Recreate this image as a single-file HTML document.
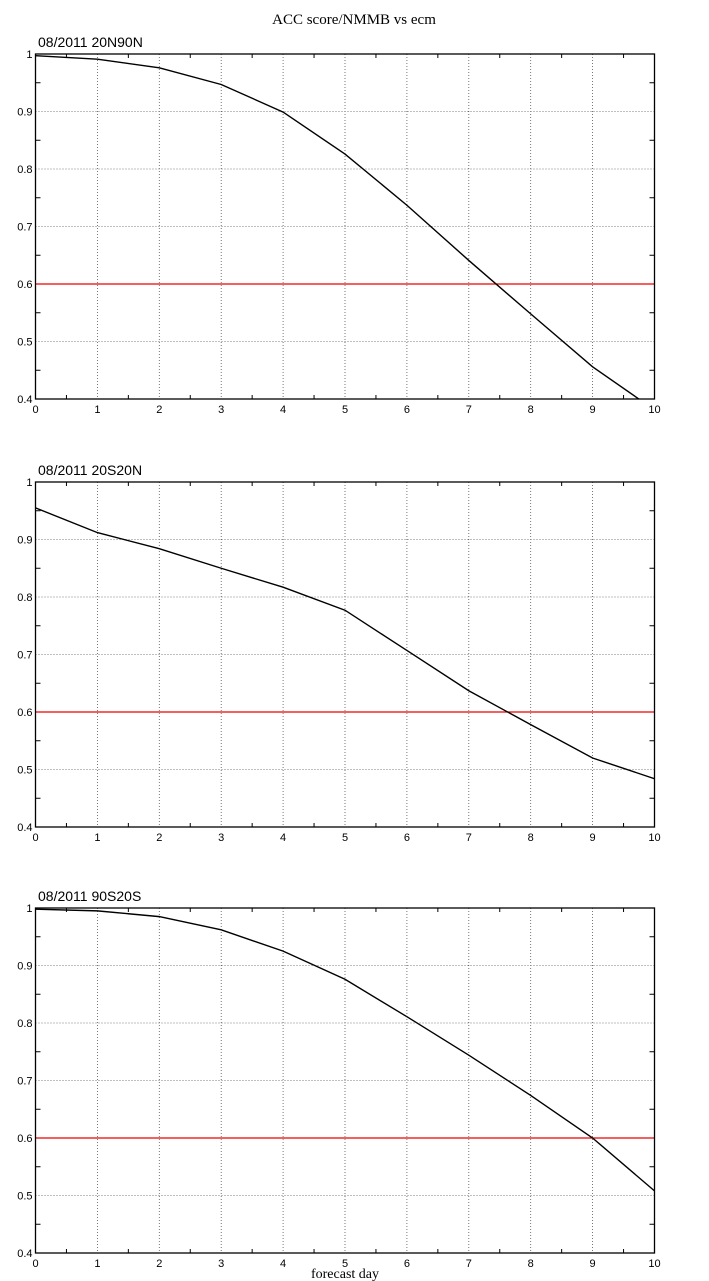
<!DOCTYPE html>
<html><head><meta charset="utf-8"><style>body{margin:0;background:#fff}svg{display:block}</style></head>
<body>
<svg id="c" width="709" height="1281" xmlns="http://www.w3.org/2000/svg">
<text x="354" y="24" text-anchor="middle" font-family="Liberation Serif, serif" font-size="15">ACC score/NMMB vs ecm</text>
<text x="345" y="1278" text-anchor="middle" font-family="Liberation Serif, serif" font-size="14">forecast day</text>
</svg>
<script>
const days=[0,1,2,3,4,5,6,7,8,9,10];
const titles=["08/2011 20N90N","08/2011 20S20N","08/2011 90S20S"];
const s1=[0.997,0.991,0.976,0.947,0.899,0.826,0.737,0.641,0.548,0.456,0.381];
const s2=[0.955,0.912,0.884,0.850,0.817,0.777,0.707,0.637,0.578,0.520,0.484];
const s3=[0.998,0.995,0.985,0.962,0.925,0.876,0.811,0.744,0.674,0.600,0.508];
const yTicks=[0.4,0.5,0.6,0.7,0.8,0.9,1];
const yTickLabels=["0.4","0.5","0.6","0.7","0.8","0.9","1"];
const refLine=0.6;
const svg=document.getElementById('c');
const NS="http://www.w3.org/2000/svg";
function mk(t,a,p){const e=document.createElementNS(NS,t);for(const k in a)e.setAttribute(k,a[k]);(p||svg).appendChild(e);return e;}
const series=[s1,s2,s3];
const tops=[54,482,908];
const L=35.5,R=654.5,H=345;
series.forEach((s,i)=>{
  const T=tops[i],B=T+H;
  const g=mk('g',{});
  
  
  const x=v=>L+(v-0)/(10-0)*(R-L);
  const y=v=>B-(v-0.4)/(1-0.4)*H;
  const cp=mk('clipPath',{id:'cp'+i},g);mk('rect',{x:L,y:T,width:R-L,height:H},cp);
  // grid
  for(let d=1;d<10;d++){const l=mk('line',{x1:x(d),x2:x(d),y1:T,y2:B,stroke:'#555','stroke-width':0.8,'stroke-dasharray':'1,2'},g);
    }
  yTicks.forEach((v,k)=>{ if(k>0&&k<yTicks.length-1){const l=mk('line',{x1:L,x2:R,y1:y(v),y2:y(v),stroke:'#555','stroke-width':0.8,'stroke-dasharray':'1,2'},g);
    }
    const t=mk('text',{x:L-3,y:y(v)+4,'text-anchor':'end','font-family':'Liberation Sans, sans-serif','font-size':11},g);t.textContent=yTickLabels[k];
    });
  // minor ticks
  for(let v=0.45;v<1;v+=0.1){mk('line',{x1:L,x2:L+5,y1:y(v),y2:y(v),stroke:'#000'},g);mk('line',{x1:R,x2:R-5,y1:y(v),y2:y(v),stroke:'#000'},g);}
  for(let d=0.5;d<10;d+=1){mk('line',{x1:x(d),x2:x(d),y1:B,y2:B-4,stroke:'#000'},g);mk('line',{x1:x(d),x2:x(d),y1:T,y2:T+4,stroke:'#000'},g);}
  days.forEach(d=>{const t=mk('text',{x:x(d),y:B+14,'text-anchor':'middle','font-family':'Liberation Sans, sans-serif','font-size':11},g);t.textContent=d;
    });
  const rl=mk('line',{x1:L,x2:R,y1:y(refLine),y2:y(refLine),stroke:'#e00','stroke-width':1.3},g);
  
  const pl=mk('polyline',{points:s.map((v,k)=>x(days[k])+','+y(v)).join(' '),fill:'none',stroke:'#000','stroke-width':1.4,'clip-path':'url(#cp'+i+')'},g);
  
  const fr=mk('rect',{x:L,y:T,width:R-L,height:H,fill:'none',stroke:'#000','stroke-width':1.3},g);
  
  const tt=mk('text',{x:38,y:T-7,'font-family':'Liberation Sans, sans-serif','font-size':14},g);tt.textContent=titles[i];
  
});
</script>
</body></html>
